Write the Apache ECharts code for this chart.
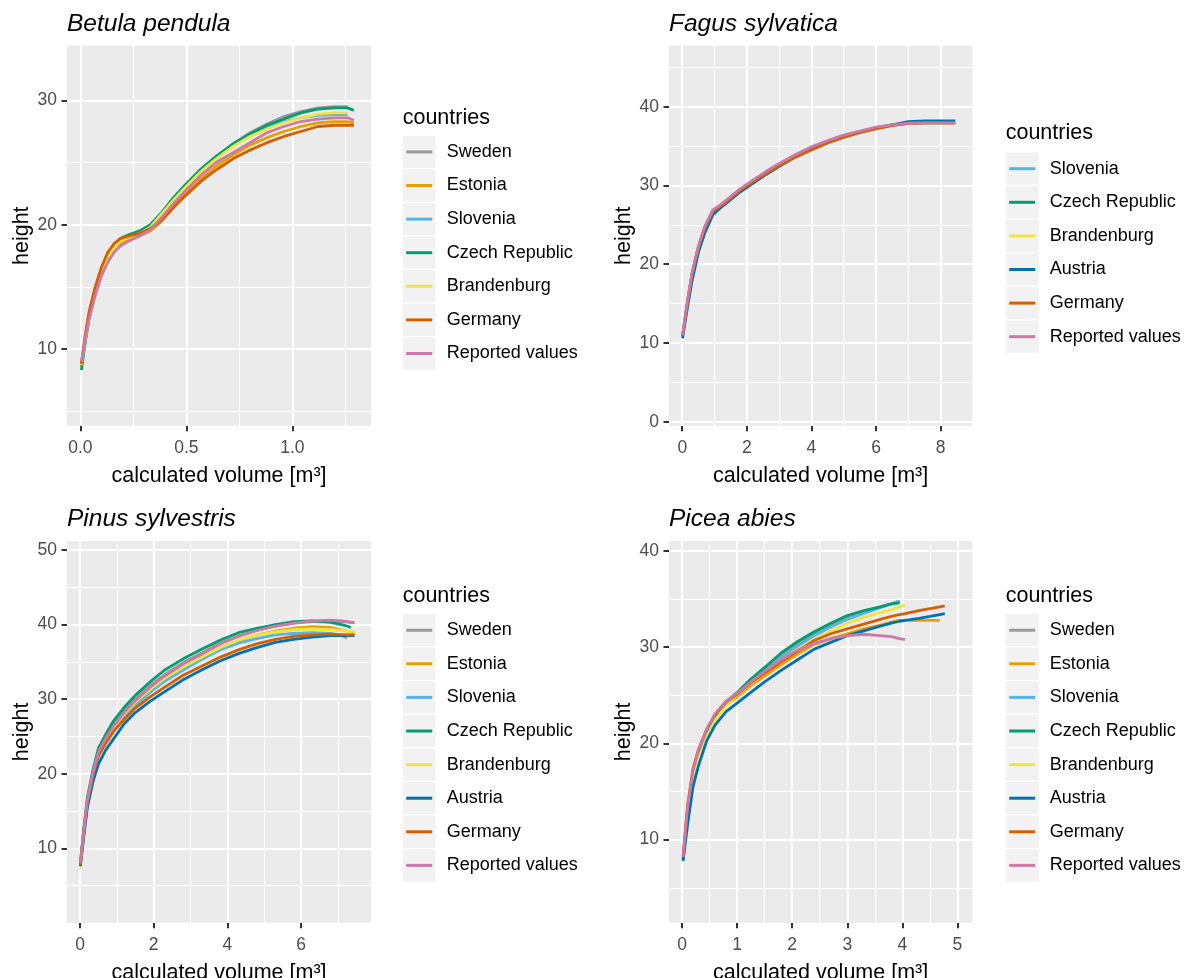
<!DOCTYPE html>
<html><head><meta charset="utf-8">
<script src="https://cdn.jsdelivr.net/npm/echarts@6/dist/echarts.min.js"></script>
<style>html,body{margin:0;padding:0;background:#fff}#c{width:1186px;height:978px}</style>
</head><body><div id="c"></div>
<script>
// ---------- colours ----------
const countryColors = {
  'Sweden': '#999999', 'Estonia': '#E69F00', 'Slovenia': '#56B4E9', 'Czech Republic': '#009E73',
  'Brandenburg': '#F0E442', 'Austria': '#0072B2', 'Germany': '#D55E00', 'Reported values': '#CC79A7'
};

// ---------- Betula pendula ----------
const betulaX = [0.005,0.02,0.04,0.07,0.10,0.13,0.16,0.19,0.23,0.28,0.33,0.38,0.44,0.50,0.57,0.64,0.72,0.80,0.88,0.96,1.04,1.12,1.20,1.26,1.29];
const betulaSweden      = [8.7,10.5,12.4,14.5,16.2,17.4,18.3,18.8,19.1,19.4,19.9,20.7,22.0,23.2,24.4,25.4,26.5,27.4,28.1,28.7,29.1,29.4,29.5,29.5,null];
const betulaEstonia     = [8.6,10.5,12.6,14.7,16.3,17.5,18.2,18.6,18.9,19.1,19.5,20.2,21.4,22.5,23.7,24.7,25.6,26.4,27.0,27.5,27.9,28.2,28.3,28.3,28.2];
const betulaSlovenia    = [8.6,10.4,12.5,14.6,16.3,17.5,18.3,18.8,19.1,19.4,19.9,20.9,22.1,23.2,24.4,25.4,26.4,27.2,27.8,28.3,28.6,28.8,28.85,28.85,null];
const betulaCzech       = [8.3,10.2,12.4,14.7,16.4,17.6,18.4,18.9,19.2,19.5,20.0,20.9,22.2,23.3,24.5,25.5,26.5,27.3,28.0,28.5,29.0,29.3,29.4,29.4,29.2];
const betulaBrandenburg = [8.7,10.5,12.5,14.6,16.2,17.4,18.2,18.7,19.0,19.3,19.8,20.8,22.0,23.1,24.3,25.3,26.3,27.1,27.7,28.2,28.6,28.9,29.0,29.0,null];
const betulaGermany     = [8.8,10.8,12.9,15.0,16.6,17.8,18.5,18.9,19.1,19.3,19.7,20.3,21.4,22.4,23.5,24.4,25.3,26.0,26.6,27.1,27.5,27.9,28.0,28.0,28.0];
const betulaReported    = [9.0,10.6,12.3,14.3,15.9,17.0,17.8,18.3,18.7,19.1,19.6,20.5,21.7,22.8,24.0,25.0,25.8,26.6,27.4,27.9,28.3,28.5,28.6,28.6,28.4];

// ---------- Fagus sylvatica ----------
const fagusX = [0.01,0.15,0.3,0.5,0.7,0.95,1.2,1.5,1.8,2.2,2.6,3.0,3.5,4.0,4.5,5.0,5.5,6.0,6.5,7.0,7.5,8.0,8.45];
const fagusSlovenia    = [10.9,14.9,18.7,22.2,24.7,26.8,27.5,28.5,29.5,30.6,31.7,32.7,33.8,34.8,35.6,36.3,36.8,37.3,37.7,37.9,37.95,37.95,37.95];
const fagusCzech       = [10.9,14.9,18.7,22.2,24.7,26.8,27.5,28.5,29.5,30.6,31.6,32.6,33.7,34.7,35.6,36.3,36.8,37.3,37.7,37.9,37.95,37.95,37.95];
const fagusBrandenburg = [10.8,14.8,18.6,22.1,24.6,26.7,27.5,28.5,29.5,30.6,31.6,32.6,33.7,34.8,35.6,36.2,36.8,37.3,37.7,37.9,37.95,37.95,37.95];
const fagusAustria     = [10.6,14.2,17.8,21.5,24.0,26.3,27.2,28.2,29.2,30.3,31.4,32.4,33.6,34.6,35.5,36.2,36.8,37.3,37.7,38.1,38.2,38.2,38.2];
const fagusGermany     = [10.9,14.8,18.6,22.1,24.6,26.7,27.4,28.4,29.4,30.5,31.5,32.5,33.6,34.5,35.4,36.1,36.7,37.2,37.6,37.9,37.95,37.95,37.95];
const fagusReported    = [11.0,15.0,18.8,22.3,24.8,26.9,27.6,28.6,29.6,30.7,31.8,32.8,33.9,34.9,35.7,36.4,36.9,37.4,37.7,37.9,37.95,37.95,37.95];

// ---------- Pinus sylvestris ----------
const pinusX = [0.01,0.1,0.2,0.35,0.5,0.7,0.9,1.2,1.5,1.9,2.3,2.8,3.3,3.8,4.3,4.8,5.3,5.8,6.3,6.8,7.1,7.25,7.35,7.45];
const pinusSweden      = [8.1,12.3,16.5,20.2,23.0,24.9,26.5,28.4,30.0,31.8,33.3,34.9,36.2,37.5,38.5,39.2,39.8,40.2,40.4,40.5,40.4,40.35,40.3,40.3];
const pinusEstonia     = [7.6,12.1,16.2,19.8,22.6,24.5,26.0,27.9,29.5,31.2,32.7,34.2,35.5,36.8,37.8,38.6,39.1,39.5,39.7,39.6,39.3,39.1,38.95,38.85];
const pinusSlovenia    = [7.8,12.0,16.1,19.7,22.5,24.3,25.8,27.7,29.2,30.9,32.4,33.9,35.3,36.6,37.5,38.1,38.6,38.8,38.9,38.8,38.5,38.2,null,null];
const pinusCzech       = [8.0,12.5,16.8,20.5,23.4,25.3,27.0,28.9,30.5,32.3,33.9,35.4,36.7,37.9,38.9,39.5,40.0,40.4,40.5,40.3,40.0,39.8,39.6,null];
const pinusBrandenburg = [7.4,12.0,16.2,19.9,22.7,24.6,26.1,28.0,29.6,31.3,32.8,34.3,35.6,36.9,37.9,38.6,39.0,39.3,39.4,39.3,39.2,39.1,39.05,39.0];
const pinusAustria     = [7.6,11.5,15.5,18.9,21.3,23.2,24.6,26.7,28.2,29.7,31.0,32.6,33.9,35.1,36.1,36.9,37.6,38.0,38.3,38.5,38.5,38.5,38.5,38.5];
const pinusGermany     = [7.8,12.2,16.3,19.8,22.4,24.1,25.6,27.3,28.8,30.3,31.6,33.2,34.4,35.6,36.6,37.4,38.0,38.4,38.6,38.7,38.65,38.6,38.6,38.6];
const pinusReported    = [8.0,12.2,16.4,20.1,22.9,24.8,26.3,28.2,29.8,31.6,33.1,34.7,36.0,37.4,38.4,39.2,39.8,40.2,40.5,40.6,40.5,40.4,40.3,40.25];

// ---------- Picea abies ----------
const piceaX = [0.02,0.1,0.2,0.3,0.45,0.6,0.8,1.0,1.25,1.5,1.8,2.1,2.4,2.7,3.0,3.3,3.6,3.8,3.95,4.05,4.3,4.5,4.68,4.77];
const piceaSweden      = [8.0,12.8,16.8,18.9,21.2,22.8,24.1,25.1,26.5,27.7,29.2,30.4,31.4,32.3,33.1,33.7,34.2,34.5,34.8,null,null,null,null,null];
const piceaEstonia     = [8.1,13.0,16.9,19.0,21.2,22.8,24.0,24.8,26.0,27.0,28.2,29.3,30.3,30.9,31.4,31.9,32.3,32.6,32.8,32.8,32.8,32.8,32.8,null];
const piceaSlovenia    = [7.9,12.7,16.6,18.8,21.1,22.7,24.0,25.0,26.3,27.5,28.9,30.1,31.2,32.1,32.9,33.5,34.1,34.5,34.8,null,null,null,null,null];
const piceaCzech       = [7.9,13.0,16.9,19.0,21.3,22.9,24.3,25.3,26.7,27.9,29.4,30.6,31.6,32.5,33.3,33.8,34.2,34.5,34.6,null,null,null,null,null];
const piceaBrandenburg = [8.0,12.5,16.2,18.4,20.7,22.4,23.9,25.0,26.2,27.3,28.6,29.8,30.8,31.7,32.5,33.1,33.6,33.9,34.2,34.4,null,null,null,null];
const piceaAustria     = [7.8,11.5,15.5,17.7,20.3,21.9,23.3,24.2,25.3,26.4,27.6,28.7,29.8,30.5,31.2,31.7,32.2,32.5,32.7,32.8,33.0,33.2,33.4,33.5];
const piceaGermany     = [8.3,13.5,17.4,19.4,21.5,23.0,24.3,25.1,26.3,27.3,28.5,29.6,30.7,31.4,31.9,32.4,32.9,33.2,33.4,33.5,33.8,34.0,34.2,34.3];
const piceaReported    = [8.2,13.3,17.2,19.3,21.5,23.1,24.4,25.2,26.4,27.5,28.7,29.7,30.4,30.9,31.2,31.35,31.2,31.1,30.9,30.8,null,null,null,null];

// ---------- tick values ----------
const betulaXMajor = [0, 0.5, 1.0], betulaXMinor = [0.25, 0.75, 1.25];
const betulaYMajor = [10, 20, 30],  betulaYMinor = [5, 15, 25];
const fagusXMajor = [0, 2, 4, 6, 8], fagusXMinor = [1, 3, 5, 7];
const fagusYMajor = [0, 10, 20, 30, 40], fagusYMinor = [5, 15, 25, 35, 45];
const pinusXMajor = [0, 2, 4, 6], pinusXMinor = [1, 3, 5, 7];
const pinusYMajor = [10, 20, 30, 40, 50], pinusYMinor = [5, 15, 25, 35, 45];
const piceaXMajor = [0, 1, 2, 3, 4, 5], piceaXMinor = [0.5, 1.5, 2.5, 3.5, 4.5];
const piceaYMajor = [10, 20, 30, 40], piceaYMinor = [5, 15, 25, 35];

// ---------- layout ----------
const FONT = 'Liberation Sans, Arial, Helvetica, sans-serif';
const PITCH = 33.6;
const panels = [
  { title: 'Betula pendula', x: betulaX, xFmt: v => v.toFixed(1),
    series: [['Sweden', betulaSweden], ['Estonia', betulaEstonia], ['Slovenia', betulaSlovenia], ['Czech Republic', betulaCzech], ['Brandenburg', betulaBrandenburg], ['Germany', betulaGermany], ['Reported values', betulaReported]],
    xr: [-0.063, 1.371], yr: [3.83, 34.4], xMaj: betulaXMajor, xMin: betulaXMinor, yMaj: betulaYMajor, yMin: betulaYMinor,
    grid: { left: 67, top: 45.7, width: 304, height: 380 }, titleTop: 12, legX: 402.7, boxTop: 135.7, cTop: 107 },
  { title: 'Fagus sylvatica', x: fagusX, xFmt: v => String(v),
    series: [['Slovenia', fagusSlovenia], ['Czech Republic', fagusCzech], ['Brandenburg', fagusBrandenburg], ['Austria', fagusAustria], ['Germany', fagusGermany], ['Reported values', fagusReported]],
    xr: [-0.41, 8.98], yr: [-0.51, 47.75], xMaj: fagusXMajor, xMin: fagusXMinor, yMaj: fagusYMajor, yMin: fagusYMinor,
    grid: { left: 669, top: 45.7, width: 303.3, height: 380 }, titleTop: 12, legX: 1005.7, boxTop: 152.5, cTop: 122 },
  { title: 'Pinus sylvestris', x: pinusX, xFmt: v => String(v),
    series: [['Sweden', pinusSweden], ['Estonia', pinusEstonia], ['Slovenia', pinusSlovenia], ['Czech Republic', pinusCzech], ['Brandenburg', pinusBrandenburg], ['Austria', pinusAustria], ['Germany', pinusGermany], ['Reported values', pinusReported]],
    xr: [-0.354, 7.90], yr: [0.02, 51.2], xMaj: pinusXMajor, xMin: pinusXMinor, yMaj: pinusYMajor, yMin: pinusYMinor,
    grid: { left: 67, top: 541, width: 304, height: 381.7 }, titleTop: 507, legX: 402.7, boxTop: 614, cTop: 585 },
  { title: 'Picea abies', x: piceaX, xFmt: v => String(v),
    series: [['Sweden', piceaSweden], ['Estonia', piceaEstonia], ['Slovenia', piceaSlovenia], ['Czech Republic', piceaCzech], ['Brandenburg', piceaBrandenburg], ['Austria', piceaAustria], ['Germany', piceaGermany], ['Reported values', piceaReported]],
    xr: [-0.236, 5.27], yr: [1.37, 41.04], xMaj: piceaXMajor, xMin: piceaXMinor, yMaj: piceaYMajor, yMin: piceaYMinor,
    grid: { left: 669, top: 541, width: 303.3, height: 381.7 }, titleTop: 507, legX: 1005.7, boxTop: 614, cTop: 585 }
];

const grids = [], xAxes = [], yAxes = [], series = [], legends = [], titles = [], graphics = [];
panels.forEach((p, i) => {
  grids.push(Object.assign({ show: true, backgroundColor: '#EBEBEB', borderWidth: 0, containLabel: false, outerBoundsMode: 'none' }, p.grid));
  const common = {
    type: 'value', gridIndex: i,
    axisLine: { show: false, onZero: false },
    axisTick: { show: true, length: 5.5, lineStyle: { color: '#333333', width: 2 } },
    splitLine: { show: false },
    nameLocation: 'middle', nameMoveOverlap: false,
    nameTextStyle: { fontSize: 21.5, color: '#000', fontFamily: FONT }
  };
  xAxes.push(Object.assign({}, common, {
    min: p.xr[0], max: p.xr[1], name: 'calculated volume [m³]', nameGap: 39,
    axisTick: Object.assign({}, common.axisTick, { customValues: p.xMaj }),
    axisLabel: { customValues: p.xMaj, margin: 13, fontSize: 17.5, color: '#4D4D4D', fontFamily: FONT, formatter: p.xFmt }
  }));
  yAxes.push(Object.assign({}, common, {
    min: p.yr[0], max: p.yr[1], name: 'height', nameGap: 34,
    axisTick: Object.assign({}, common.axisTick, { customValues: p.yMaj }),
    axisLabel: { customValues: p.yMaj, margin: 10, fontSize: 17.5, color: '#4D4D4D', fontFamily: FONT, padding: [3, 0, 0, 0] }
  }));
  const white = w => ({ color: '#FFFFFF', width: w, type: 'solid', opacity: 1 });
  series.push({
    type: 'line', xAxisIndex: i, yAxisIndex: i, data: [], silent: true, z: 1,
    markLine: {
      silent: true, symbol: ['none', 'none'], label: { show: false }, animation: false, z: 1,
      emphasis: { disabled: true }, lineStyle: white(1),
      data: [
        ...p.xMin.map(v => ({ xAxis: v, lineStyle: white(1.05) })),
        ...p.yMin.map(v => ({ yAxis: v, lineStyle: white(1.05) })),
        ...p.xMaj.map(v => ({ xAxis: v, lineStyle: white(2.1) })),
        ...p.yMaj.map(v => ({ yAxis: v, lineStyle: white(2.1) }))
      ]
    }
  });
  p.series.forEach(([name, ys]) => {
    const data = [];
    p.x.forEach((xv, j) => { if (ys[j] != null) data.push([xv, ys[j]]); });
    series.push({
      name, type: 'line', xAxisIndex: i, yAxisIndex: i, data, z: 2,
      showSymbol: false, symbol: 'none', animation: false, emphasis: { disabled: true },
      lineStyle: { width: 2.8, color: countryColors[name] }, itemStyle: { color: countryColors[name] }
    });
  });
  legends.push({
    data: p.series.map(s => s[0]), orient: 'vertical', left: p.legX + 3.5, top: p.boxTop - 0.6,
    itemWidth: 26, itemHeight: 3, itemGap: 0, icon: 'rect', padding: 0, selectedMode: false,
    textStyle: { fontSize: 18, color: '#000', lineHeight: PITCH - 5, padding: [5, 0, 0, 9.5], fontFamily: FONT }
  });
  p.series.forEach((s, k) => {
    graphics.push({ type: 'rect', silent: true, z: 0,
      shape: { x: p.legX, y: p.boxTop + k * PITCH, width: 33, height: PITCH - 1.3 }, style: { fill: '#F2F2F2' } });
  });
  titles.push({ text: p.title, left: p.grid.left, top: p.titleTop, padding: 0,
    textStyle: { fontSize: 24.5, fontStyle: 'italic', fontWeight: 'normal', color: '#000', fontFamily: FONT } });
  titles.push({ text: 'countries', left: p.legX, top: p.cTop, padding: 0,
    textStyle: { fontSize: 21.5, fontWeight: 'normal', color: '#000', fontFamily: FONT } });
});

const chart = echarts.init(document.getElementById('c'), null, { renderer: 'canvas' });
chart.setOption({
  animation: false, backgroundColor: '#FFFFFF',
  textStyle: { fontFamily: FONT },
  title: titles, grid: grids, xAxis: xAxes, yAxis: yAxes, legend: legends, series, graphic: graphics
});
</script></body></html>
